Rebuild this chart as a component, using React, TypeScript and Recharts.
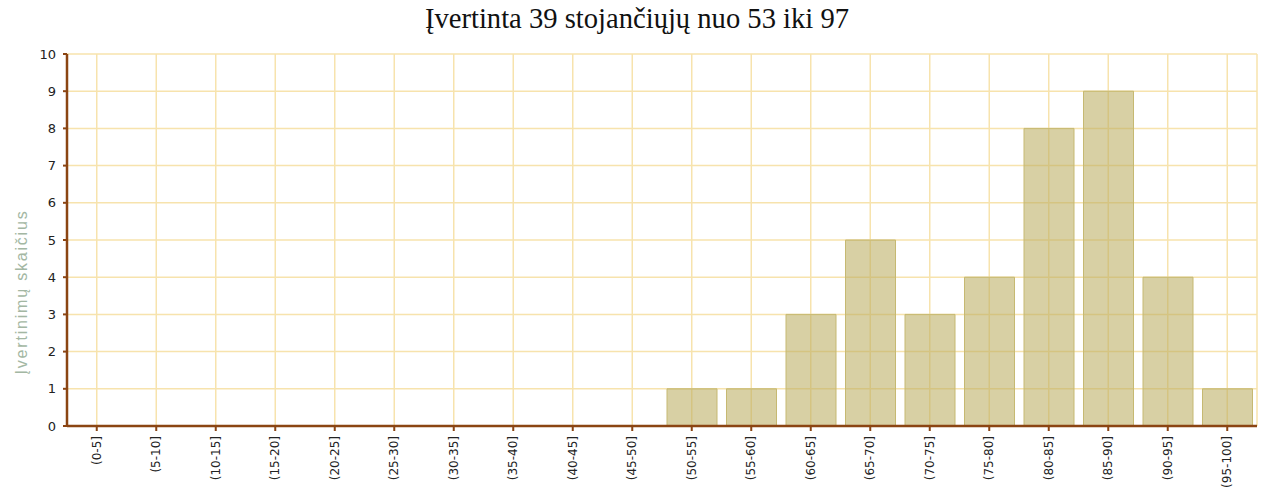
import React from 'react';
import { BarChart, Bar, XAxis, YAxis, CartesianGrid } from 'recharts';

const categories = ['(0-5]', '(5-10]', '(10-15]', '(15-20]', '(20-25]', '(25-30]', '(30-35]', '(35-40]', '(40-45]', '(45-50]', '(50-55]', '(55-60]', '(60-65]', '(65-70]', '(70-75]', '(75-80]', '(80-85]', '(85-90]', '(90-95]', '(95-100]'];
const counts = [0, 0, 0, 0, 0, 0, 0, 0, 0, 0, 1, 1, 3, 5, 3, 4, 8, 9, 4, 1];
const yTicks = [0, 1, 2, 3, 4, 5, 6, 7, 8, 9, 10];
const title = 'Įvertinta 39 stojančiųjų nuo 53 iki 97';
const yLabel = 'Įvertinimų skaičius';

const data = categories.map((c, i) => ({ cat: c, value: counts[i] }));

const XTick = (props: any) => {
  const { x, y, payload } = props;
  return (
    <text
      x={x}
      y={y + 3}
      transform={`rotate(-90 ${x} ${y + 3})`}
      textAnchor="end"
      dominantBaseline="central"
      fontFamily="'DejaVu Sans', Verdana, sans-serif"
      fontSize={12}
      fill="#222"
    >
      {payload.value}
    </text>
  );
};

const YTick = (props: any) => {
  const { x, y, payload } = props;
  return (
    <text
      x={x - 5}
      y={y}
      textAnchor="end"
      dominantBaseline="central"
      fontFamily="'DejaVu Sans', Verdana, sans-serif"
      fontSize={13}
      fill="#222"
    >
      {payload.value}
    </text>
  );
};

const YLabel = () => (
  <text
    x={21}
    y={292}
    transform="rotate(-90 21 292)"
    textAnchor="middle"
    dominantBaseline="central"
    fontFamily="'Liberation Sans', Arial, sans-serif"
    fontSize={16}
    letterSpacing={1.8}
    fill="#a3b7a3"
  >
    {yLabel}
  </text>
);

export default function App() {
  return (
    <div style={{ position: 'absolute', left: 0, top: 0, width: 1262, height: 496, background: '#fff' }}>
      <div
        style={{
          position: 'absolute',
          left: 0,
          top: 4,
          width: 1274,
          textAlign: 'center',
          fontFamily: "'Liberation Serif', 'Times New Roman', serif",
          fontSize: 28.6,
          color: '#111',
          lineHeight: '30px',
        }}
      >
        {title}
      </div>
      <BarChart
        width={1262}
        height={496}
        data={data}
        margin={{ top: 54, right: 5, bottom: 0, left: 27 }}
        barCategoryGap={5}
      >
        <CartesianGrid stroke="#f7e3ad" strokeWidth={1.5} />
        <XAxis
          dataKey="cat"
          interval={0}
          tick={<XTick />}
          tickLine={{ stroke: '#8b4513', strokeWidth: 2 }}
          tickSize={5}
          axisLine={{ stroke: '#8b4513', strokeWidth: 2.5 }}
          height={70}
        />
        <YAxis
          domain={[0, 10]}
          ticks={yTicks}
          interval={0}
          width={40}
          tick={<YTick />}
          tickLine={{ stroke: '#8b4513', strokeWidth: 2 }}
          tickSize={4}
          axisLine={{ stroke: '#8b4513', strokeWidth: 2.5 }}
          label={<YLabel />}
        />
        <Bar
          dataKey="value"
          fill="#bcae62"
          fillOpacity={0.58}
          stroke="#c6b972"
          strokeWidth={1}
          isAnimationActive={false}
        />
      </BarChart>
    </div>
  );
}
